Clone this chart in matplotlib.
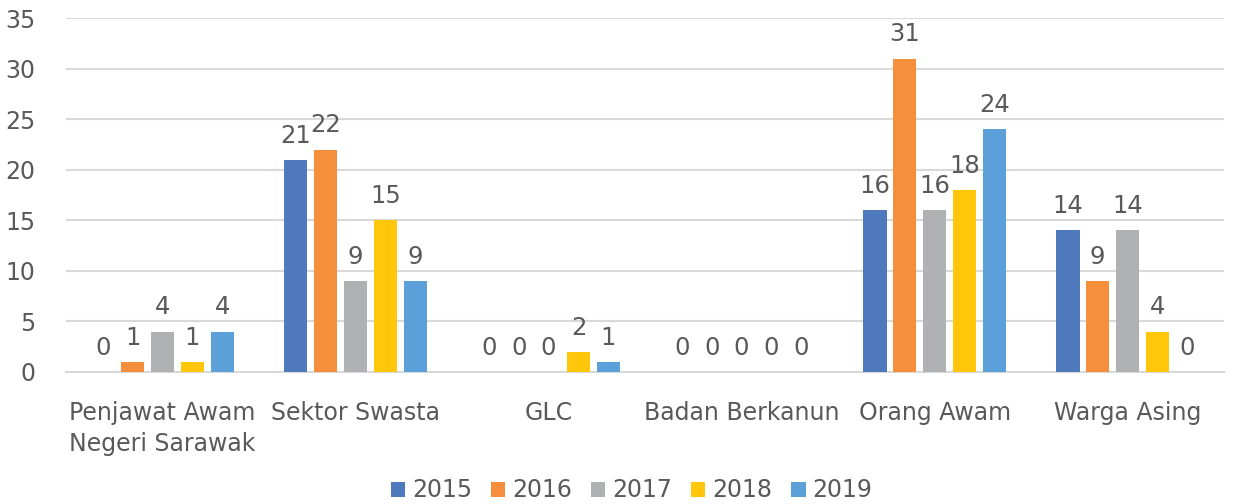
import numpy as np
import matplotlib
matplotlib.use('Agg')
import matplotlib.pyplot as plt

categories = ['Penjawat Awam\nNegeri Sarawak', 'Sektor Swasta', 'GLC',
              'Badan Berkanun', 'Orang Awam', 'Warga Asing']
years = ['2015', '2016', '2017', '2018', '2019']
v2015 = [0, 21, 0, 0, 16, 14]
v2016 = [1, 22, 0, 0, 31, 9]
v2017 = [4, 9, 0, 0, 16, 14]
v2018 = [1, 15, 2, 0, 18, 4]
v2019 = [4, 9, 1, 0, 24, 0]
series = [v2015, v2016, v2017, v2018, v2019]
colors = ['#4E79BD', '#F58F3B', '#B0B1B3', '#FFC60A', '#5BA0D8']

text_color = '#595959'
plt.rcParams['font.family'] = ['DejaVu Sans']

fig = plt.figure(figsize=(12.34, 5.04), dpi=100)
ax = fig.add_axes([0.0535, 0.262, 0.9385, 0.702])

x = np.arange(len(categories))
pitch = 0.155
width = 0.122
for i, (vals, col, yr) in enumerate(zip(series, colors, years)):
    pos = x + (i - 2) * pitch
    ax.bar(pos, vals, width, color=col, label=yr, zorder=3)
    for p, v in zip(pos, vals):
        # etiket nilai di atas bar
        ax.text(p, v + 1.2, str(v), ha='center', va='bottom',
                fontsize=17.5, color=text_color)

ax.set_xlim(-0.5, len(categories) - 0.5)
ax.set_ylim(0, 35)
ax.set_yticks(range(0, 36, 5))
ax.set_xticks(x)
ax.set_xticklabels(categories, linespacing=1.35)
ax.tick_params(axis='both', length=0, labelsize=17, labelcolor=text_color)
ax.tick_params(axis='x', pad=21)
ax.tick_params(axis='y', pad=22)
ax.grid(axis='y', color='#D9D9D9', linewidth=1.5, zorder=0)
for s in ['top', 'right', 'left']:
    ax.spines[s].set_visible(False)
ax.spines['bottom'].set_color('#D9D9D9')
ax.spines['bottom'].set_linewidth(1.5)

fig.legend(loc='center', bbox_to_anchor=(0.512, 0.027), ncol=5, frameon=False,
           fontsize=17, labelcolor=text_color, handlelength=0.6, handleheight=0.6,
           handletextpad=0.3, columnspacing=0.8)

fig.savefig('out.png', dpi=100)
